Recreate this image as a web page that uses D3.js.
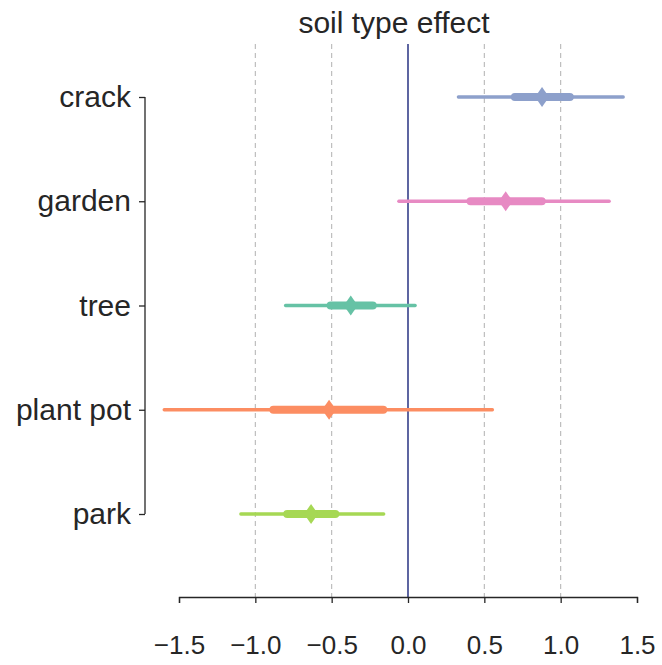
<!DOCTYPE html>
<html>
<head>
<meta charset="utf-8">
<script src="https://cdn.jsdelivr.net/npm/d3@7"></script>
<style>
  body { margin: 0; background: #fff; }
  text { font-family: "Liberation Sans", Arial, sans-serif; fill: #262626; }
</style>
</head>
<body>
<svg id="chart" width="662" height="665"></svg>
<script>
// Soil type effect estimates: posterior mean, inner (thick) and outer (thin) intervals
const categories = ["crack", "garden", "tree", "plant pot", "park"];
const means      = [0.878, 0.64, -0.375, -0.517, -0.635];
const innerLo    = [0.70, 0.41, -0.507, -0.882, -0.791];
const innerHi    = [1.06, 0.876, -0.231, -0.162, -0.476];
const outerLo    = [0.33, -0.06, -0.802, -1.597, -1.095];
const outerHi    = [1.41, 1.318, 0.047, 0.553, -0.159];
const colors     = ["#8da0cb", "#e78ac3", "#66c2a5", "#fc8d62", "#a6d854"];
const xTicks     = [-1.5, -1.0, -0.5, 0.0, 0.5, 1.0, 1.5];
const gridTicks  = [-1.0, -0.5, 0.5, 1.0];

const svg = d3.select("#chart");

const x = d3.scaleLinear().domain([-1.5, 1.5]).range([179, 637]);
const y = d3.scalePoint().domain(categories).range([97, 514]);

const plotTop = 44, axisY = 597, spineX = 145;

// dashed vertical grid
svg.append("g").selectAll("line").data(gridTicks).join("line")
  .attr("x1", d => x(d)).attr("x2", d => x(d))
  .attr("y1", plotTop).attr("y2", axisY)
  .attr("stroke", "#b8b8b8").attr("stroke-width", 1.1)
  .attr("stroke-dasharray", "5,4");

// reference line at zero
svg.append("line")
  .attr("x1", x(0)).attr("x2", x(0))
  .attr("y1", plotTop).attr("y2", axisY)
  .attr("stroke", "#353f8a").attr("stroke-width", 1.6);

// x axis
const xAxis = d3.axisBottom(x).tickValues(xTicks)
  .tickFormat(d => d3.format(".1f")(d).replace("-", "\u2212"))
  .tickSize(6).tickPadding(33);
const gx = svg.append("g").attr("transform", `translate(0,${axisY})`).call(xAxis);
gx.select(".domain").attr("stroke", "#262626").attr("stroke-width", 1.3);
gx.selectAll(".tick line").attr("stroke", "#262626").attr("stroke-width", 1.3);
gx.selectAll("text").attr("font-size", 26).style("fill", "#262626")
  .attr("font-family", "Liberation Sans, Arial, sans-serif");

// y axis (trimmed spine on the left)
const yAxis = d3.axisLeft(y).tickSize(6).tickPadding(8);
const gy = svg.append("g").attr("transform", `translate(${spineX},0)`).call(yAxis);
gy.select(".domain").attr("stroke", "#262626").attr("stroke-width", 1.3)
  .attr("d", `M0,${y(categories[0])}V${y(categories[categories.length - 1])}`);
gy.selectAll(".tick line").attr("stroke", "#262626").attr("stroke-width", 1.3);
gy.selectAll("text").attr("font-size", 30).style("fill", "#262626")
  .attr("font-family", "Liberation Sans, Arial, sans-serif");

// interval marks
const rows = categories.map((c, i) => ({
  c, m: means[i], il: innerLo[i], ih: innerHi[i], ol: outerLo[i], oh: outerHi[i], col: colors[i]
}));
const g = svg.append("g");
g.selectAll("line.outer").data(rows).join("line").attr("class", "outer")
  .attr("x1", d => x(d.ol)).attr("x2", d => x(d.oh))
  .attr("y1", d => y(d.c)).attr("y2", d => y(d.c))
  .attr("stroke", d => d.col).attr("stroke-width", 3.3).attr("stroke-linecap", "round");
g.selectAll("line.inner").data(rows).join("line").attr("class", "inner")
  .attr("x1", d => x(d.il)).attr("x2", d => x(d.ih))
  .attr("y1", d => y(d.c)).attr("y2", d => y(d.c))
  .attr("stroke", d => d.col).attr("stroke-width", 8).attr("stroke-linecap", "round");
g.selectAll("path.mean").data(rows).join("path").attr("class", "mean")
  .attr("d", d => {
    const cx = x(d.m), cy = y(d.c), w = 7, h = 10;
    return `M${cx},${cy - h}L${cx + w},${cy}L${cx},${cy + h}L${cx - w},${cy}Z`;
  })
  .attr("fill", d => d.col);

// title
svg.append("text").attr("x", 394).attr("y", 33).attr("text-anchor", "middle")
  .attr("font-size", 30).text("soil type effect");
</script>
</body>
</html>
